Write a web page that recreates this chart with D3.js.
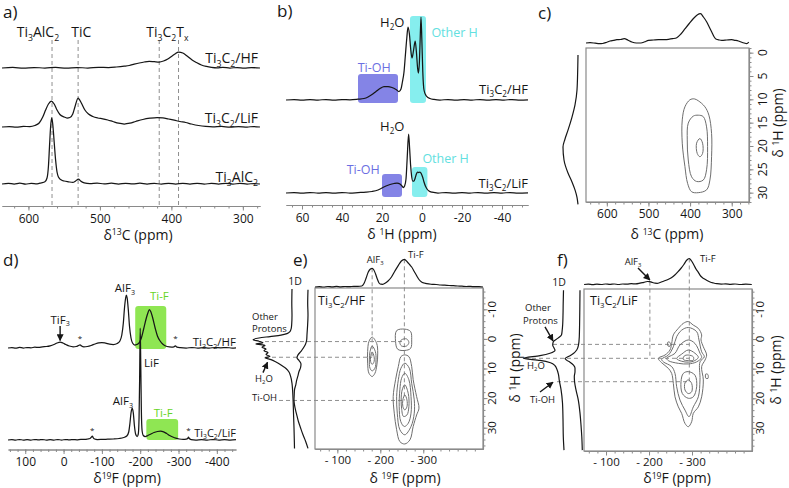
<!DOCTYPE html>
<html><head><meta charset="utf-8">
<script src="https://cdn.jsdelivr.net/npm/d3@7"></script>
<style>body{margin:0;background:#fff}svg{display:block}</style>
</head><body><svg id="c" width="789" height="488"></svg>
<script>
// ================= DATA =================
// Panel a: 13C spectra [ppm, intensity]
const aTicks=[600,500,400,300];
const aRefLines=[567,530.5,417,390];
const aRefLabels=["Ti_{3}AlC_{2}","TiC","Ti_{3}C_{2}T_{x}"];
const aRefLabelPpm=[586.7,525.9,405.6];
const aNames=["Ti_{3}C_{2}/HF","Ti_{3}C_{2}/LiF","Ti_{3}AlC_{2}"];
const aHF=[[637,0],[622,0.6],[607,-0.2],[592,0.5],[577,0],[562,0.6],[547,-0.2],[532,0.5],[517,0],[502,0.6],[488,0.5],[477,1],[466,1.8],[459,2.5],[452,3.8],[445,5],[438,6],[431,6.6],[424,6.3],[417,6],[411,7],[405,9],[399,12],[395,14],[390,16],[384,15],[378,12],[371,8],[365,5.5],[358,3],[351,1.6],[344,0.7],[336,0.2],[328,0.6],[318,0],[308,0.5],[298,-0.2],[288,0.4],[276,0]];
const aLiF=[[637,0],[627,0.5],[617,-0.2],[607,0.6],[598,0.4],[591,1.5],[585,4],[580,10],[576,17],[572,23],[568,26],[564,23],[560,17],[556,12.5],[550,10],[546,9],[542,9.5],[538,13],[535,20],[530.5,29],[526,24],[521,17],[516,13],[510,10.5],[503,9],[496,8.2],[489,7],[482,5.5],[474,3.8],[466,3],[458,3.8],[450,5.5],[440,7.5],[430,8.8],[420,9.5],[412,9.2],[404,8],[396,6.8],[388,5.5],[380,4.5],[372,3],[362,1.5],[352,0.6],[342,0.2],[330,0.6],[318,-0.2],[306,0.4],[294,0],[285,0.5],[276,0]];
const aAlC=[[637,0],[628,0.7],[620,0],[612,0.8],[604,-0.2],[596,0.7],[588,0.2],[582,1.2],[577,2.2],[574,6],[572,18],[570.5,38],[569,57],[567.5,66],[566,60],[564,42],[562,24],[560,12],[558,7],[555,4.5],[550,3],[544,2.2],[538,1.6],[534,3],[530,5],[527,3],[522,1.2],[514,0.4],[504,0.9],[494,0.1],[484,0.8],[474,0],[464,0.7],[454,0.1],[444,0.8],[434,0],[424,0.6],[414,-0.1],[404,0.7],[394,0],[384,0.6],[374,0],[364,0.7],[354,-0.1],[344,0.6],[334,0],[324,0.7],[314,-0.1],[304,0.6],[294,0],[284,0.5],[276,0]];

// Panel b: 1H spectra
const bTicks=[60,40,20,0,-20,-40];
const bHF=[[68,0],[64,0.5],[60,-0.2],[56,0.4],[52,0],[48,0.5],[44,-0.2],[40,0.4],[36,0.2],[32,0.8],[29,1.5],[27,3],[25,5.5],[23,8.5],[21,11.5],[19,13.5],[17,13.5],[15,12.5],[13,10.5],[11.5,8.5],[10.5,11],[9.8,18],[9,28],[8.3,45],[7.6,62],[7,73],[6.3,66],[5.7,52],[5,42],[4.2,50],[3.4,59],[2.8,48],[2.2,32],[1.8,27],[1.3,38],[0.9,62],[0.5,83],[0.1,62],[-0.4,28],[-1,10],[-2,4.5],[-3,2.5],[-4,1.5],[-6,0.6],[-9,0],[-13,0.5],[-17,-0.2],[-21,0.4],[-25,0],[-29,0.5],[-33,-0.2],[-37,0.4],[-41,0],[-45,0.5],[-49,-0.2],[-53,0.2]];
const bLiF=[[68,0],[64,0.4],[60,-0.2],[56,0.5],[52,0],[48,0.4],[44,-0.2],[40,0.5],[36,0],[32,0.4],[28,0.8],[25,1.5],[22,3],[20,5],[18,7],[16,8.5],[14,9.5],[12.5,10],[11,9],[10,7],[9.4,5.5],[8.7,7],[8,14],[7.4,35],[6.7,59],[6.2,45],[5.7,28],[5.2,17],[4.6,12],[4,12],[3.4,15],[2.8,19],[2.2,21],[1.6,20.5],[1,21],[0.4,19.5],[-0.3,16],[-1,11],[-1.7,7],[-2.5,4],[-3.5,2],[-5,0.8],[-8,0],[-12,0.5],[-16,-0.2],[-20,0.4],[-24,0],[-28,0.5],[-32,-0.2],[-36,0.4],[-40,0],[-44,0.5],[-48,-0.2],[-53,0.2]];
// boxes: [ppmFrom, ppmTo, intLow, intHigh]
const bBoxHF={tiOH:[32,12,-3,26],otherH:[6,-2,-3,84]};
const bBoxLiF={tiOH:[20,10,-4,19],otherH:[5,-2.7,-4,26]};

// Panel c: 13C-1H HETCOR
const cXTicks=[600,500,400,300];
const cYTicks=[0,5,10,15,20,25,30];
const cTop=[[650,0],[640,0.3],[628,-0.2],[618,-0.7],[610,-0.5],[600,0.8],[592,2],[584,2.6],[576,3.3],[567,3.5],[558,4.3],[549,2.8],[540,1],[529,0],[518,0],[509,1.2],[500,2.7],[488,3],[476,3.3],[464,3.4],[452,3.7],[442,4.3],[432,5.3],[422,9],[412,14.3],[402,19.5],[392,24.5],[383,28],[375,29.3],[368,26],[360,21],[354,16],[348,11],[342,6],[337,3.7],[330,3],[324,2.7],[312,3],[300,3.3],[292,2.7],[284,2],[276,0.8],[270,0],[264,-0.7],[259,0.8]];
const cLeft=[[0.5,0],[3.7,0.3],[8,1],[11.2,3],[13.8,6],[16.6,10],[18.5,13],[20.2,15],[23,14],[25.8,10],[27.7,6],[29.4,3],[31,1],[32.5,0]];
const cContours=[
 [[390,9.9],[380.4,10.3],[364.4,11.6],[354.8,13.4],[348.4,17.3],[348.4,22.3],[352.4,27.3],[360.4,29.4],[380.4,30],[396.4,29.8],[406,28],[412.4,24.4],[418.8,19.4],[418.8,14.4],[412.4,11.6],[400.4,10.1]],
 [[380.4,13.4],[368.4,13.7],[360.4,15.9],[358,20.1],[360.4,25.1],[368.4,27.3],[384.4,27.6],[396.4,26.6],[404.4,23],[406.8,18.7],[404.4,15.1],[392.4,13.6]],
 [[376.4,18.4],[370,19.4],[370,21.6],[376.4,22.3],[382.8,21.6],[384.4,19.4]]
];

// Panel d: 19F spectra
const dTicks=[100,0,-100,-200,-300,-400];
const dHF=[[145,0],[135,0.5],[125,-0.2],[115,0.6],[105,0],[95,0.5],[85,0.2],[75,0.8],[65,0.6],[55,1.2],[45,1.5],[35,2.2],[25,3.5],[17,5],[9,6],[2,5],[-6,3.5],[-15,2],[-25,1.2],[-33,1.5],[-39,2.5],[-43,3.2],[-47,2],[-53,1.2],[-62,1.5],[-72,2.5],[-82,4],[-92,5.2],[-100,5.5],[-110,4.8],[-120,3.8],[-130,3.5],[-140,4.5],[-147,7],[-152,13],[-156,25],[-159,40],[-162,50],[-164,53],[-166,50],[-169,38],[-172,22],[-176,10],[-180,5],[-186,3],[-191,3.5],[-197,5],[-203,10],[-209,19],[-216,30],[-220,35],[-224,38.5],[-228,36],[-232,31],[-239,20],[-245,12],[-252,7],[-260,3.5],[-270,1.5],[-282,1],[-288,1.2],[-292,2.2],[-296,0.8],[-305,0.3],[-320,0],[-335,0.5],[-350,0],[-365,0.4],[-380,0],[-395,0.5],[-410,0.2],[-425,0.5],[-440,0],[-450,0.2]];
const dLiF=[[145,0],[135,0.4],[125,0],[115,0.5],[105,0],[95,0.4],[85,0],[75,0.5],[65,0.1],[55,0.5],[45,0],[35,0.4],[25,0],[15,0.5],[5,0],[-5,0.5],[-15,0.1],[-25,0.5],[-35,0.2],[-45,0.6],[-55,0.6],[-63,1],[-69,1.5],[-73,3],[-75,4],[-77,2.5],[-81,1],[-88,0.5],[-100,0.6],[-115,0.8],[-130,1],[-145,1.5],[-157,2.5],[-165,4],[-170,8],[-173,16],[-176,27],[-179,32],[-182,27],[-185,14],[-188,6],[-192,3.5],[-195,6],[-197,22],[-198.5,60],[-200,112],[-201.5,75],[-203,30],[-205,9],[-208,4.5],[-213,3.5],[-220,4.5],[-228,6],[-236,7.5],[-245,8.5],[-253,8.8],[-261,8.2],[-269,6.5],[-277,4.5],[-285,3],[-293,1.8],[-302,1],[-312,0.6],[-320,0.8],[-324,1.5],[-326,3],[-328,1.5],[-333,0.4],[-345,0],[-360,0.4],[-375,0],[-390,0.5],[-405,0],[-420,0.4],[-435,0],[-450,0.3]];
const dBoxHF=[-187,-268,-1,42];
const dBoxLiF=[-216,-299,0,21];
const dStarsHF=[-43,-292];
const dStarsLiF=[-75,-326];

// Panel e: 19F-1H HETCOR Ti3C2/HF
const efXTicks=[-100,-200,-300];
const efYTicks=[-10,0,10,20,30];
const eTop=[[-48,0],[-58,0.4],[-68,0],[-78,0.5],[-88,0.1],[-98,0.6],[-108,0.2],[-118,0.5],[-128,0.3],[-138,0.7],[-148,0.6],[-157,1],[-162,3.5],[-167,9],[-172,15],[-177,18],[-181,18.7],[-185,17],[-189,13],[-193,8],[-197,4],[-201,2.8],[-206,2.7],[-211,3.7],[-218,6],[-226,10],[-234,16],[-242,21.7],[-249,26],[-256,27.7],[-263,25],[-268,22.5],[-273,20],[-279,15.5],[-285,11],[-290,7.5],[-296,5],[-302,4],[-308,3.3],[-320,2.7],[-330,2.5],[-340,2],[-350,1.8],[-360,1.5],[-370,1.3],[-380,1],[-390,0.8],[-400,0.5],[-410,0.6],[-420,0.3],[-430,0.4],[-439,0]];
const e1D=[[-16.9,3],[-12,3.2],[-8,3],[-5,3.3],[-3.5,3.8],[-2.5,5],[-1.8,8],[-1.3,14],[-0.8,25],[-0.3,36],[0.3,42],[0.8,36],[1.3,32],[1.7,39],[2.2,30],[2.8,33],[3.4,29],[4,31],[4.6,27],[5.3,29],[5.9,25],[6.4,30],[7,24],[7.8,19],[8.8,14],[10,9],[11.2,6],[12.5,4.5],[15,3],[20,2],[25,1.5],[30,1],[37,0.5]];
const eProj=[[-16.6,1],[-12,1.3],[-8,1],[-4,1.5],[-1.5,2],[0.3,2.3],[1.8,3.5],[3,5.5],[4.2,8],[5.4,11],[6.4,12],[7.3,10],[8.5,8],[9.8,8.5],[11,10],[12.4,11],[13.9,12.3],[15.5,13.2],[17.2,14.5],[19,14.8],[20.6,15],[22.3,14.5],[24,13.5],[26,12],[28,10.5],[30,8.5],[32.4,6],[34.5,3.5],[37,1]];
const eContours=[
 [[-181,-0.6],[-191.5,1.5],[-194,4.8],[-192,8.8],[-187.5,11.6],[-181,12.7],[-173.5,11.6],[-170.5,8.2],[-170.5,4.3],[-173.5,0.9]],
 [[-181,2.4],[-188.5,4.3],[-190,7.1],[-187.5,9.9],[-181,10.8],[-176,9.9],[-174.5,7.1],[-176,4.3]],
 [[-181,4.4],[-185.5,6],[-185.5,7.7],[-181,8.6],[-177.5,7.7],[-177.5,6]],
 [[-238,-2.8],[-257,-3.3],[-270.5,-2.5],[-273,0.3],[-270.5,3.2],[-257,3.9],[-240.5,3.5],[-235.5,0.9]],
 [[-249.5,0.3],[-261,0],[-266.5,1.2],[-261,2.4],[-249.5,2.4],[-245.5,1.2]],
 [[-257,5.4],[-266.5,6],[-273,9.3],[-276.5,13.8],[-284.5,19.5],[-290,23.4],[-284.5,25.7],[-276.5,29.6],[-269,34.1],[-257,35.5],[-245.5,34.7],[-238,30.7],[-232.5,25.1],[-230,19.5],[-235.5,13.8],[-242,9.3],[-248,6]],
 [[-257,8.2],[-267.5,9.9],[-273,15],[-279,20.6],[-279,25.1],[-271.5,29.6],[-257,32.4],[-245.5,30.7],[-239.5,25.1],[-238,19.5],[-242,13.8],[-248,9.9]],
 [[-257,11.6],[-266.5,13.8],[-271.5,19.5],[-271.5,25.1],[-265,28.5],[-256,29.6],[-247.5,27.9],[-244,22.9],[-245.5,17.2],[-249.5,13.3]],
 [[-257,15.5],[-265,18.4],[-266.5,22.9],[-262,25.7],[-254,26.2],[-249.5,23.4],[-249,18.9],[-252,16.7]],
 [[-257,18.9],[-262,20.6],[-262,22.9],[-257,24],[-252.5,22.9],[-252.5,20.6]]
];
const eRefF=[-181,-256];     // AlF3, Ti-F
const eRefH=[0.9,6.2,20.8];  // other protons, H2O, Ti-OH

// Panel f: 19F-1H HETCOR Ti3C2/LiF
const fTop=[[-49,0],[-59,0.4],[-69,-0.2],[-79,0.3],[-89,0],[-99,0.5],[-109,0.1],[-119,0.5],[-129,0],[-139,0.5],[-149,0.3],[-159,0.8],[-169,0.6],[-179,1.3],[-188,2.2],[-196,3],[-202,2.8],[-208,2],[-214,1.3],[-219,1.2],[-226,2],[-235,3.5],[-244,5],[-252,6.8],[-260,9.5],[-267,12.6],[-274,16],[-281,20],[-287,24],[-293.7,26],[-299,23.5],[-305,19],[-310,15],[-314,12.6],[-320,8.5],[-327,6],[-334,4.3],[-342,2.5],[-350,1.5],[-358,0.8],[-368,0.4],[-378,0.6],[-390,0.2],[-400,0.5],[-412,0],[-425,0.4],[-439,0]];
const f1D=[[-16.5,2.5],[-12,2.8],[-8,3],[-5,3.3],[-3,3.8],[-1.4,4.5],[-0.3,8],[0.9,12.7],[2,13.3],[3,12],[3.8,11],[4.8,16],[5.6,26],[6.5,42.7],[7.2,26],[8,15.5],[9,11],[10,9.3],[12,7.5],[14,6.7],[17,5],[21.6,3.5],[27,3],[33,2.7],[37.5,2]];
const fProj=[[-16.5,3],[-10,3.2],[-5,3.4],[-0.8,3.7],[2,4.5],[3.7,6.3],[5,10],[5.8,14],[6.6,18],[7.2,16],[7.8,13],[8.8,9.5],[9.8,8],[11,8],[12.7,8.7],[14.5,8.4],[17.2,7],[20.6,4.7],[25,3],[29,2],[33,1.2],[37.5,0.7]];
const fContours=[
 [[-291.4,-5.9],[-303,-4.7],[-314.7,-3.6],[-322.4,-1.4],[-320.9,0.3],[-326.3,2.6],[-334,5.4],[-330.2,7.1],[-322.4,9.3],[-326.3,13.8],[-322.4,19.5],[-314.7,22.9],[-303,25.1],[-299.2,27.9],[-291.4,29.6],[-283.7,28.5],[-275.9,25.1],[-268.2,22.9],[-260.4,19.5],[-256.6,15],[-252.7,11.6],[-245,9.9],[-229.4,8],[-221.7,6.5],[-237.2,5.4],[-248.8,3.7],[-252.7,1.5],[-256.6,-1.4],[-268.2,-3.6],[-279.8,-5.3]],
 [[-291.4,-3.9],[-310.8,-2.5],[-316.2,0.3],[-322.4,4.3],[-328.6,6],[-318.6,7.7],[-318.6,13.8],[-314.7,19.5],[-303,22.9],[-293,26.2],[-283.7,24],[-272,20.6],[-264.3,16.1],[-260.4,11.6],[-252.7,9.3],[-233.3,7.7],[-229.4,6.8],[-245,5.4],[-256.6,2.6],[-264.3,-0.8],[-275.9,-3]],
 [[-291.4,0.3],[-306.9,1.5],[-318.6,4.8],[-322.4,6.2],[-310.8,7.7],[-291.4,8.4],[-268.2,8.2],[-245,7.3],[-241.1,6.5],[-260.4,4.8],[-272,2]],
 [[-291.4,3.7],[-306.9,4.8],[-314.7,6.2],[-303,7.5],[-291.4,7.8],[-275.9,7.5],[-264.3,6.6],[-275.9,5.1]],
 [[-291.4,5.4],[-303,6],[-303,7.1],[-291.4,7.3],[-279.8,6.9],[-282.1,5.7]],
 [[-291.4,11],[-306.9,12.2],[-310.8,16.1],[-303,19.5],[-291.4,20],[-277.5,18.4],[-274.4,14.4],[-279.8,11.6]],
 [[-291.4,13.8],[-299.2,15],[-299.2,17.8],[-291.4,18.4],[-283.7,17.2],[-283.7,14.8]],
 [[-332,11.8],[-337,12],[-337,13.3],[-332,13.2]],
 [[-244,1],[-249,1.2],[-249,2.4],[-244,2.3]]
];
const fRefF=[-202,-293.7];
const fRefH=[1.8,6.5,14.4];

// ================= DRAWING =================
const FONT='"Open Sans","Noto Sans","DejaVu Sans",sans-serif';
const INK="#161616", GRID="#8a8a8a", CONT="#6e6e6e";
const svg=d3.select("#c").attr("font-family",FONT);
svg.append("rect").attr("width",789).attr("height",488).attr("fill","#fff");
const defs=svg.append("defs");
defs.append("marker").attr("id","ah").attr("viewBox","0 0 10 10").attr("refX",9).attr("refY",5)
  .attr("markerWidth",5).attr("markerHeight",5).attr("orient","auto")
  .append("path").attr("d","M0,0L10,5L0,10z").attr("fill",INK);

function rt(g,str,x,y,fs,anchor,fill,transform){
  const t=g.append("text").attr("x",x).attr("y",y).attr("font-size",fs)
    .attr("text-anchor",anchor||"start").attr("fill",fill||INK);
  if(transform) t.attr("transform",transform);
  const parts=str.split(/(_\{[^}]*\}|\^\{[^}]*\})/).filter(s=>s.length);
  let cur=0;
  parts.forEach(p=>{
    let s=0,txt=p,size=fs;
    if(p.startsWith("_{")){s=0.26*fs;txt=p.slice(2,-1);size=0.62*fs;}
    else if(p.startsWith("^{")){s=-0.29*fs;txt=p.slice(2,-1);size=0.62*fs;}
    t.append("tspan").attr("dy",s-cur).attr("font-size",size).text(txt);
    cur=s;
  });
  return t;
}
function rrt(g,str,cx,cy,fs){ // rotated -90, centred at (cx,cy)
  return rt(g,str,0,0,fs,"middle",INK,`translate(${cx+0.35*fs},${cy}) rotate(-90)`);
}
function styleAxis(ax,fs){
  ax.attr("font-family",null).attr("font-size",null);
  ax.selectAll("path.domain").attr("stroke",GRID).attr("stroke-width",1.1);
  ax.selectAll(".tick line").attr("stroke",GRID);
  ax.selectAll(".tick text").attr("fill",INK).attr("font-size",fs);
}
function bottomAxis(g,x,y,major,minorStep,fmt,fs,pad){
  const dom=x.domain(), lo=Math.min(...dom), hi=Math.max(...dom);
  const minor=d3.range(Math.ceil(lo/minorStep)*minorStep,hi+1e-9,minorStep);
  const a1=g.append("g").attr("transform",`translate(0,${y})`)
    .call(d3.axisBottom(x).tickValues(minor).tickSize(2.5).tickFormat("").tickSizeOuter(0));
  styleAxis(a1,fs);
  const a2=g.append("g").attr("transform",`translate(0,${y})`)
    .call(d3.axisBottom(x).tickValues(major).tickSize(4.5).tickPadding(pad).tickFormat(fmt).tickSizeOuter(0));
  styleAxis(a2,fs);
}
function rightAxis(g,yS,xPos,major,minorStep,fmt,fs,labX){
  const dom=yS.domain(), lo=Math.min(...dom), hi=Math.max(...dom);
  const minor=d3.range(Math.ceil(lo/minorStep)*minorStep,hi+1e-9,minorStep);
  const a1=g.append("g").attr("transform",`translate(${xPos},0)`)
    .call(d3.axisRight(yS).tickValues(minor).tickSize(2.5).tickFormat("").tickSizeOuter(0));
  styleAxis(a1,fs);
  const a2=g.append("g").attr("transform",`translate(${xPos},0)`)
    .call(d3.axisRight(yS).tickValues(major).tickSize(4.5).tickFormat("").tickSizeOuter(0));
  styleAxis(a2,fs);
  major.forEach(v=>rrt(g,fmt(v),labX,yS(v),fs));
}
function hLine(x,y,base,k){return d3.line().x(d=>x(d[0])).y(d=>base-k(d[1])).curve(d3.curveMonotoneX);}
function vLine(yS,base,k){return d3.line().x(d=>base-k(d[1])).y(d=>yS(d[0])).curve(d3.curveMonotoneY);}
function trace(g,path,data,w){
  g.append("path").datum(data).attr("d",path).attr("fill","none").attr("stroke",INK)
   .attr("stroke-width",w||1.25).attr("stroke-linejoin","round");
}
function dash(g,x1,y1,x2,y2){
  g.append("line").attr("x1",x1).attr("y1",y1).attr("x2",x2).attr("y2",y2)
   .attr("stroke","#8f8f8f").attr("stroke-width",1).attr("stroke-dasharray","4,3");
}
function arrow(g,x1,y1,x2,y2){
  g.append("line").attr("x1",x1).attr("y1",y1).attr("x2",x2).attr("y2",y2)
   .attr("stroke",INK).attr("stroke-width",1.4).attr("marker-end","url(#ah)");
}
const I=d3.scaleLinear().domain([0,100]).range([0,100]); // intensity -> px
const neg=d=> d<0 ? "-"+Math.abs(d) : String(d);
const negSp=d=> d<0 ? "- "+Math.abs(d) : String(d);
const contourPath=(x,y)=>d3.line().x(d=>x(d[0])).y(d=>y(d[1])).curve(d3.curveCatmullRomClosed.alpha(0.5));

// ---------------- Panel a ----------------
{
  const g=svg.append("g");
  const x=d3.scaleLinear().domain([637,276]).range([2,260]);
  const bases=[68,127,184];
  aRefLines.forEach(p=>dash(g,x(p),40,x(p),206));
  [aHF,aLiF,aAlC].forEach((d,i)=>trace(g,hLine(x,null,bases[i],I),d));
  bottomAxis(g,x,206,aTicks,20,d3.format("d"),12,3.5);
  aRefLabels.forEach((s,i)=>rt(g,s,x(aRefLabelPpm[i]),37,14,"middle"));
  [63,123,182].forEach((b,i)=>rt(g,aNames[i],258,b,14,"end"));
  rt(g,"δ^{13}C (ppm)",138,239.5,14,"middle");
  rt(g,"a)",3,18,17);
}
// ---------------- Panel b ----------------
{
  const g=svg.append("g");
  const x=d3.scaleLinear().domain([68,-53]).range([286,528]);
  const bases=[100,193];
  const box=(b,base,col)=>g.append("rect").attr("x",x(b[0])).attr("width",x(b[1])-x(b[0]))
     .attr("y",base-I(b[3])).attr("height",I(b[3])-I(b[2])).attr("rx",3).attr("fill",col);
  box(bBoxHF.tiOH,bases[0],"#8484e6"); box(bBoxHF.otherH,bases[0],"#86eeee");
  box(bBoxLiF.tiOH,bases[1],"#8484e6"); box(bBoxLiF.otherH,bases[1],"#86eeee");
  trace(g,hLine(x,null,bases[0],I),bHF);
  trace(g,hLine(x,null,bases[1],I),bLiF);
  bottomAxis(g,x,205,bTicks,5,neg,12,3.5);
  rt(g,"H_{2}O",x(14.9),27,13,"middle");
  rt(g,"H_{2}O",x(14.9),131,13,"middle");
  rt(g,"Other H",x(-4.7),37,12.5,"start","#62e0e0");
  rt(g,"Other H",x(-0.2),163,12.5,"start","#62e0e0");
  rt(g,"Ti-OH",x(23.9),71.5,12.5,"middle","#6b6fe2");
  rt(g,"Ti-OH",x(29.4),174,12.5,"middle","#6b6fe2");
  rt(g,"Ti_{3}C_{2}/HF",528,94,13,"end");
  rt(g,"Ti_{3}C_{2}/LiF",528,188,13,"end");
  rt(g,"δ ^{1}H (ppm)",402,239,14,"middle");
  rt(g,"b)",277,17,17);
}
// ---------------- Panel c ----------------
{
  const g=svg.append("g");
  const x=d3.scaleLinear().domain([650,258.5]).range([586,749]);
  const y=d3.scaleLinear().domain([-1,32]).range([48,202]);
  g.append("rect").attr("x",586).attr("y",48).attr("width",163).attr("height",154)
    .attr("fill","none").attr("stroke",GRID).attr("stroke-width",1.2);
  cContours.forEach(c=>g.append("path").datum(c).attr("d",contourPath(x,y))
    .attr("fill","none").attr("stroke",CONT).attr("stroke-width",1));
  trace(g,hLine(x,null,43,I),cTop,1.2);
  trace(g,vLine(y,578,I),cLeft,1.2);
  bottomAxis(g,x,202,cXTicks,20,d3.format("d"),12,3);
  rightAxis(g,y,749,cYTicks,1,String,12,763);
  rt(g,"δ ^{13}C (ppm)",667,239,14,"middle");
  rrt(g,"δ ^{1}H (ppm)",778,123,14);
  rt(g,"c)",538,19,17);
}
// ---------------- Panel d ----------------
{
  const g=svg.append("g");
  const x=d3.scaleLinear().domain([145,-450]).range([8,236]);
  const bases=[348,440];
  const box=(b,base)=>g.append("rect").attr("x",x(b[0])).attr("width",x(b[1])-x(b[0]))
     .attr("y",base-I(b[3])).attr("height",I(b[3])-I(b[2])).attr("rx",3).attr("fill","#8fe653");
  box(dBoxHF,bases[0]); box(dBoxLiF,bases[1]);
  trace(g,hLine(x,null,bases[0],I),dHF);
  trace(g,hLine(x,null,bases[1],I),dLiF);
  bottomAxis(g,x,449.5,dTicks,20,neg,12,3);
  dStarsHF.forEach(p=>rt(g,"*",x(p),345-I(4),8,"middle"));
  dStarsLiF.forEach(p=>rt(g,"*",x(p),437-I(4),8,"middle"));
  rt(g,"TiF_{3}",x(9),323.5,11.5,"middle");
  arrow(g,x(9),bases[0]-I(22),x(9),bases[0]-I(7.5));
  rt(g,"AlF_{3}",x(-160),292,11.5,"middle");
  rt(g,"Ti-F",x(-250),300,11.5,"middle","#66d425");
  rt(g,"Ti_{3}C_{2}/HF",236,346,11.5,"end");
  rt(g,"LiF",x(-210),366.5,11.5,"start");
  rt(g,"AlF_{3}",x(-155),405,11.5,"middle");
  rt(g,"Ti-F",x(-260),416.5,11.5,"middle","#66d425");
  rt(g,"Ti_{3}C_{2}/LiF",236,436.5,11,"end");
  rt(g,"δ^{19}F (ppm)",127,483,14,"middle");
  rt(g,"d)",3,266,17);
}
// ---------------- Panel e ----------------
{
  const g=svg.append("g");
  const x=d3.scaleLinear().domain([-48,-439]).range([315,483]);
  const y=d3.scaleLinear().domain([-17.2,37.2]).range([288,449]);
  const topBase=287;
  dash(g,x(eRefF[0]),topBase-I(18.7),x(eRefF[0]),y(eRefH[1]));
  dash(g,x(eRefF[1]),topBase-I(27.7),x(eRefF[1]),y(eRefH[2]));
  dash(g,265,y(eRefH[0]),x(eRefF[1]),y(eRefH[0]));
  dash(g,265,y(eRefH[1]),x(eRefF[0]),y(eRefH[1]));
  dash(g,279,y(eRefH[2]),x(eRefF[1]),y(eRefH[2]));
  g.append("rect").attr("x",315).attr("y",288).attr("width",168).attr("height",161)
    .attr("fill","none").attr("stroke",GRID).attr("stroke-width",1.2);
  eContours.forEach(c=>g.append("path").datum(c).attr("d",contourPath(x,y))
    .attr("fill","none").attr("stroke",CONT).attr("stroke-width",1));
  trace(g,hLine(x,null,topBase,I),eTop,1.2);
  trace(g,vLine(y,295,I),e1D,1.2);
  trace(g,vLine(y,309,I),eProj,1.2);
  bottomAxis(g,x,449,efXTicks,20,negSp,11.5,2.5);
  rightAxis(g,y,483,efYTicks,2,neg,11.5,492);
  rt(g,"AlF_{3}",x(-188),263,9.5,"middle");
  rt(g,"Ti-F",408,258,9.5,"start");
  rt(g,"Ti_{3}C_{2}/HF",318,305,12.5,"start");
  rt(g,"1D",295,285,10.5,"middle");
  rt(g,"Other",252,320,9.5,"start");
  rt(g,"Protons",252,332,9.5,"start");
  rt(g,"H_{2}O",255,382,9.5,"start");
  rt(g,"Ti-OH",252,401,9.5,"start");
  arrow(g,263,y(11.4),267.5,y(7.9));
  rt(g,"δ ^{19}F (ppm)",405,483,14,"middle");
  rrt(g,"δ ^{1}H (ppm)",515,368,14);
  rt(g,"e)",293,266,17);
}
// ---------------- Panel f ----------------
{
  const g=svg.append("g");
  const x=d3.scaleLinear().domain([-48.8,-439.5]).range([584,752]);
  const y=d3.scaleLinear().domain([-16.9,37.8]).range([289,451]);
  const topBase=284.5;
  dash(g,x(fRefF[0]),topBase-I(2.8),x(fRefF[0]),y(fRefH[1]));
  dash(g,x(fRefF[1]),topBase-I(26),x(fRefF[1]),y(fRefH[2]));
  dash(g,553,y(fRefH[0]),x(fRefF[1]),y(fRefH[0]));
  dash(g,525,y(fRefH[1]),x(fRefF[1]),y(fRefH[1]));
  dash(g,557,y(fRefH[2]),x(fRefF[1]),y(fRefH[2]));
  g.append("rect").attr("x",584).attr("y",289).attr("width",168).attr("height",162)
    .attr("fill","none").attr("stroke",GRID).attr("stroke-width",1.2);
  fContours.forEach(c=>g.append("path").datum(c).attr("d",contourPath(x,y))
    .attr("fill","none").attr("stroke",CONT).attr("stroke-width",1));
  trace(g,hLine(x,null,topBase,I),fTop,1.2);
  trace(g,vLine(y,566,I),f1D,1.2);
  trace(g,vLine(y,583,I),fProj,1.2);
  bottomAxis(g,x,451,efXTicks,20,negSp,11.5,2.5);
  rightAxis(g,y,752,efYTicks,2,neg,11.5,760);
  rt(g,"AlF_{3}",633,265,9.5,"middle");
  arrow(g,x(-174.4),topBase-I(16.5),x(-202),topBase-I(4.5));
  rt(g,"Ti-F",700,261.5,9.5,"start");
  rt(g,"Ti_{3}C_{2}/LiF",590,305,12.5,"start");
  rt(g,"1D",559,286,10.5,"middle");
  rt(g,"Other",525,311,9.5,"start");
  rt(g,"Protons",523,324,9.5,"start");
  arrow(g,545,y(-4.1),553,y(0.6));
  rt(g,"H_{2}O",527,369,9.5,"start");
  rt(g,"Ti-OH",530,403,9.5,"start");
  arrow(g,540,y(17.9),553,y(14.6));
  rt(g,"δ^{19}F (ppm)",677,483,14,"middle");
  rrt(g,"δ ^{1}H (ppm)",776,370,14);
  rt(g,"f)",557,266,17);
}
</script></body></html>
